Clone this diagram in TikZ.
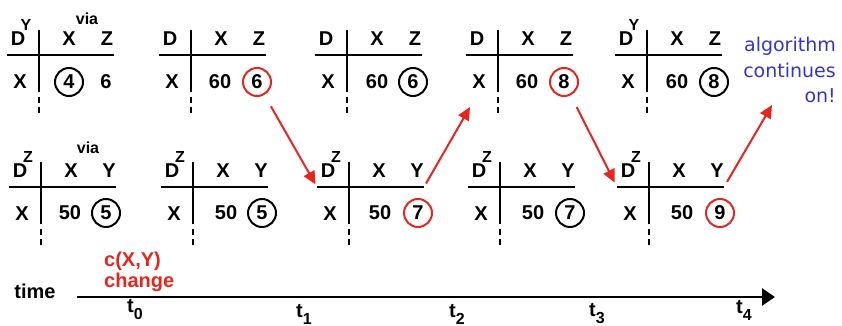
\documentclass[tikz,border=0pt]{standalone}
\usepackage{fontspec}
\setmainfont{Liberation Sans}
\newfontfamily\comicfont{DejaVu Sans}
\usetikzlibrary{arrows.meta}
\definecolor{myred}{HTML}{E3261E}
\definecolor{myblue}{HTML}{3535CC}
\tikzset{
  tabline/.style={line width=2.6pt, black},
  lab/.style={inner sep=0pt, font=\bfseries\fontsize{20}{22}\selectfont},
  suplab/.style={inner sep=0pt, font=\bfseries\fontsize{16}{18}\selectfont},
  cval/.style={circle, draw=#1, line width=2pt, minimum size=28pt, inner sep=0pt, font=\bfseries\fontsize{20}{22}\selectfont},
  redarr/.style={draw=myred, line width=2pt, -{Triangle[length=13pt,width=12pt]}, color=myred},
  tlab/.style={inner sep=0pt, anchor=west, font=\bfseries\fontsize{20}{22}\selectfont},
}
\newcommand\dvtab[6]{%
  \coordinate (#1) at (#2,#3);
  \coordinate (#1w) at (#2-32,#3);
  \coordinate (#1e) at (#2+75,#3);
  \coordinate (#1n) at (#2,#3-25);
  \coordinate (#1s) at (#2,#3+37);
  \coordinate (#1ds) at (#2,#3+42);
  \coordinate (#1de) at (#2,#3+60);
  \draw[tabline] (#1w) -- (#1e);
  \draw[tabline] (#1n) -- (#1s);
  \draw[tabline, dash pattern=on 6pt off 4pt] (#1ds) -- (#1de);
  \node[lab] (#1D) at (#2-21,#3-16) {D};
  \if\relax\detokenize{#4}\relax\else\node[suplab] (#1S) at (#2-13,#3-30) {#4};\fi
  \node[lab] (#1c1) at (#2+30,#3-16) {#5};
  \node[lab] (#1c2) at (#2+68,#3-16) {#6};
  \node[lab] (#1r) at (#2-19,#3+27) {X};
}
\begin{document}
\begin{tikzpicture}[x=1pt,y=-1pt]
\useasboundingbox (0,0) rectangle (842,326);
% top row
\dvtab{T1}{39}{55}{Y}{X}{Z}
\dvtab{T2}{191}{55}{}{X}{Z}
\dvtab{T3}{347}{55}{}{X}{Z}
\dvtab{T4}{498}{55}{}{X}{Z}
\dvtab{T5}{647}{55}{Y}{X}{Z}
\node[suplab] (via1) at (87,19) {via};
\node[cval=black] (T1v1) at (69,82) {4};
\node[lab] (T1v2) at (106,82) {6};
\node[lab] (T2v1) at (220,82) {60};
\node[cval=myred] (T2v2) at (257,82) {6};
\node[lab] (T3v1) at (377,82) {60};
\node[cval=black] (T3v2) at (413,82) {6};
\node[lab] (T4v1) at (527,82) {60};
\node[cval=myred] (T4v2) at (564,82) {8};
\node[lab] (T5v1) at (677,82) {60};
\node[cval=black] (T5v2) at (714,82) {8};
% bottom row
\dvtab{T6}{41}{187}{Z}{X}{Y}
\dvtab{T7}{193}{187}{Z}{X}{Y}
\dvtab{T8}{349}{187}{Z}{X}{Y}
\dvtab{T9}{500}{187}{Z}{X}{Y}
\dvtab{T10}{649}{187}{Z}{X}{Y}
\node[suplab] (via2) at (88,148) {via};
\node[lab] (T6v1) at (70,213) {50};
\node[cval=black] (T6v2) at (106,213) {5};
\node[lab] (T7v1) at (226,213) {50};
\node[cval=black] (T7v2) at (262,213) {5};
\node[lab] (T8v1) at (380,213) {50};
\node[cval=myred] (T8v2) at (418,213) {7};
\node[lab] (T9v1) at (533,213) {50};
\node[cval=black] (T9v2) at (570,213) {7};
\node[lab] (T10v1) at (682,213) {50};
\node[cval=myred] (T10v2) at (720,213) {9};
% blue note
\node[inner sep=0pt, anchor=north east, align=right, text=myblue,
      font=\comicfont\fontsize{19}{25.5}\selectfont] (note) at (836,37)
  {algorithm\\continues\\on!};
% red arrows
\coordinate (a2end) at (470,107);
\coordinate (a4end) at (772,105);
\draw[redarr, shorten <=13pt, shorten >=3pt] (T2v2) -- (T8w);
\draw[redarr, shorten <=4pt] (T8e) -- (a2end);
\draw[redarr, shorten <=13pt, shorten >=5pt] (T4v2) -- (T10w);
\draw[redarr, shorten <=6pt] (T10e) -- (a4end);
% time axis
\coordinate (ax0) at (77,297);
\coordinate (ax1) at (775,297);
\draw[line width=2.6pt, -{Triangle[length=13pt,width=17pt]}] (ax0) -- (ax1);
\node[lab] (time) at (35,291) {time};
\node[tlab, text=myred] (cxy) at (104,261) {c(X,Y)};
\node[tlab, text=myred] (chg) at (104,282) {change};
\node[tlab] (t0) at (127,310) {t\raisebox{-7pt}{\fontsize{16}{16}\selectfont 0}};
\node[tlab] (t1) at (296,314) {t\raisebox{-7pt}{\fontsize{16}{16}\selectfont 1}};
\node[tlab] (t2) at (449,314) {t\raisebox{-7pt}{\fontsize{16}{16}\selectfont 2}};
\node[tlab] (t3) at (589,314) {t\raisebox{-7pt}{\fontsize{16}{16}\selectfont 3}};
\node[tlab] (t4) at (736,310) {t\raisebox{-7pt}{\fontsize{16}{16}\selectfont 4}};
\end{tikzpicture}
\end{document}
